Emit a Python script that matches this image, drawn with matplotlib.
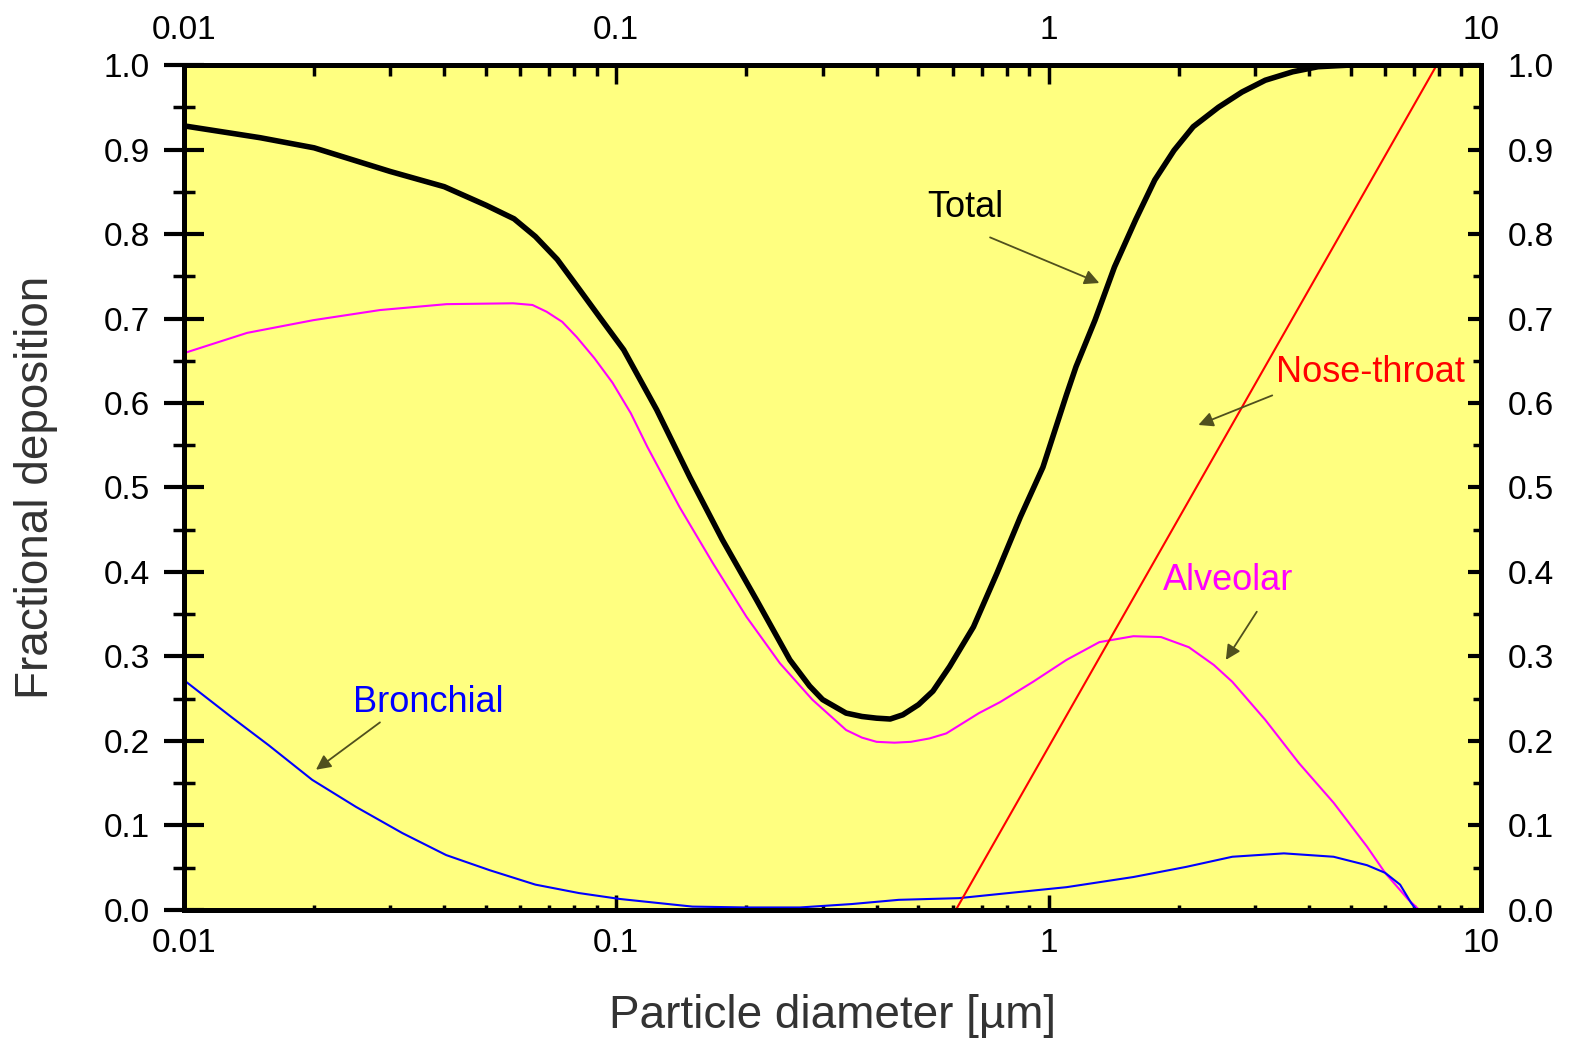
import matplotlib
matplotlib.use("Agg")
import matplotlib.pyplot as plt
from matplotlib.ticker import FixedLocator, NullFormatter, LogLocator

plt.rcParams['font.family'] = ['Liberation Sans', 'DejaVu Sans']

# particle diameter [um] and fractional deposition
total_d = [0.01, 0.015, 0.02, 0.03, 0.04, 0.05, 0.058, 0.065, 0.073, 0.082,
           0.092, 0.104, 0.124, 0.148, 0.176, 0.211, 0.252, 0.28, 0.30, 0.34,
           0.37, 0.40, 0.43, 0.46, 0.50, 0.54, 0.59, 0.67, 0.76, 0.86, 0.97,
           1.10, 1.157, 1.28, 1.42, 1.59, 1.76, 1.95, 2.16, 2.47, 2.8, 3.17,
           3.67, 4.2, 5.0, 8.0]
total_y = [0.928, 0.914, 0.902, 0.874, 0.856, 0.834, 0.818, 0.797, 0.77, 0.735,
           0.70, 0.663, 0.592, 0.512, 0.438, 0.367, 0.296, 0.265, 0.249, 0.233,
           0.229, 0.227, 0.226, 0.231, 0.243, 0.259, 0.288, 0.335, 0.399, 0.465,
           0.524, 0.61, 0.643, 0.698, 0.761, 0.817, 0.864, 0.899, 0.927, 0.95,
           0.968, 0.982, 0.992, 0.998, 1.0, 1.0]

alv_d = [0.01, 0.014, 0.0199, 0.0284, 0.0405, 0.0577, 0.064, 0.069, 0.075,
         0.081, 0.089, 0.098, 0.108, 0.118, 0.14, 0.167, 0.2, 0.239, 0.284,
         0.34, 0.37, 0.40, 0.44, 0.48, 0.53, 0.58, 0.69, 0.772, 0.92, 1.10,
         1.31, 1.57, 1.82, 2.11, 2.41, 2.66, 3.17, 3.79, 4.56, 5.45, 6.0, 6.8,
         7.2]
alv_y = [0.659, 0.683, 0.698, 0.710, 0.717, 0.718, 0.716, 0.708, 0.696,
         0.678, 0.653, 0.624, 0.588, 0.548, 0.477, 0.411, 0.347, 0.292, 0.249,
         0.213, 0.204, 0.199, 0.198, 0.199, 0.203, 0.209, 0.233, 0.246, 0.270,
         0.296, 0.317, 0.324, 0.323, 0.311, 0.29, 0.270, 0.225, 0.174, 0.127,
         0.075, 0.044, 0.012, 0.0]

bron_d = [0.01, 0.0129, 0.0157, 0.0198, 0.025, 0.032, 0.0404, 0.051, 0.065,
          0.082, 0.102, 0.15, 0.2, 0.266, 0.35, 0.45, 0.62, 0.772, 1.10, 1.57,
          2.08, 2.66, 3.5, 4.56, 5.45, 6.0, 6.5, 6.9, 7.1]
bron_y = [0.272, 0.228, 0.195, 0.154, 0.122, 0.091, 0.065, 0.047, 0.030,
          0.02, 0.013, 0.004, 0.003, 0.003, 0.007, 0.012, 0.014, 0.019, 0.027,
          0.039, 0.051, 0.063, 0.067, 0.063, 0.053, 0.044, 0.030, 0.008, 0.0]

nose_d = [0.61, 7.9]
nose_y = [0.0, 1.0]

x_ticks = [0.01, 0.1, 1, 10]
x_labels = ['0.01', '0.1', '1', '10']
y_ticks = [0.0, 0.1, 0.2, 0.3, 0.4, 0.5, 0.6, 0.7, 0.8, 0.9, 1.0]
y_labels = ['%.1f' % v for v in y_ticks]

# label, text position, arrow tail, arrow head, colour
notes = [
    ('Total', (0.64, 0.831), (0.732, 0.796), (1.31, 0.742), 'black'),
    ('Nose-throat', (5.54, 0.636), (3.29, 0.609), (2.22, 0.574), 'red'),
    ('Alveolar', (2.6, 0.39), (3.03, 0.353), (2.57, 0.296), '#ff00ff'),
    ('Bronchial', (0.0367, 0.245), (0.0284, 0.222), (0.0202, 0.166), '#0000ff'),
]

fig = plt.figure(figsize=(15.71, 10.42), dpi=100)
ax = fig.add_axes([0.1171, 0.1267, 0.8256, 0.8109])
ax.set_facecolor('#ffff80')

ax.plot(total_d, total_y, color='black', lw=4, solid_joinstyle='round')
ax.plot(alv_d, alv_y, color='#ff00ff', lw=1.5)
ax.plot(bron_d, bron_y, color='#0000ff', lw=1.5)
ax.plot(nose_d, nose_y, color='red', lw=1.5)

for label, txt, tail, head, col in notes:
    ax.text(txt[0], txt[1], label, color=col, fontsize=26, ha='center', va='center')
    ax.annotate('', xy=head, xytext=tail,
                arrowprops=dict(arrowstyle='-|>', color='#50501e', lw=1.3,
                                mutation_scale=22, shrinkA=0, shrinkB=0))

ax.set_xscale('log')
ax.set_xlim(0.01, 10)
ax.set_ylim(0, 1)

ax.xaxis.set_major_locator(FixedLocator(x_ticks))
ax.set_xticklabels(x_labels)
ax.xaxis.set_minor_locator(LogLocator(base=10, subs=range(2, 10)))
ax.xaxis.set_minor_formatter(NullFormatter())
ax.set_yticks(y_ticks)
ax.set_yticklabels(y_labels)
ax.set_yticks([v + 0.05 for v in y_ticks[:-1]], minor=True)

ax.tick_params(axis='y', which='major', direction='inout', length=29, width=3,
               pad=10, labelsize=24)
ax.tick_params(axis='y', which='minor', direction='inout', length=16, width=2.5)
ax.tick_params(axis='x', which='major', direction='in', length=11, width=2.5,
               pad=13, labelsize=24)
ax.tick_params(axis='x', which='minor', direction='in', length=3.5, width=2.5)

# right side
axr = ax.twinx()
axr.set_ylim(0, 1)
axr.set_yticks(y_ticks)
axr.set_yticklabels(y_labels)
axr.set_yticks([v + 0.05 for v in y_ticks[:-1]], minor=True)
axr.tick_params(axis='y', which='major', direction='in', length=9.5, width=3,
                pad=19, labelsize=24)
axr.tick_params(axis='y', which='minor', direction='in', length=6, width=2.5)

# top side
axt = ax.twiny()
axt.set_xscale('log')
axt.set_xlim(0.01, 10)
axt.xaxis.set_major_locator(FixedLocator(x_ticks))
axt.set_xticklabels(x_labels)
axt.xaxis.set_minor_locator(LogLocator(base=10, subs=range(2, 10)))
axt.xaxis.set_minor_formatter(NullFormatter())
axt.tick_params(axis='x', which='major', direction='in', length=14, width=2.5,
                pad=14, labelsize=24)
axt.tick_params(axis='x', which='minor', direction='in', length=8, width=2.5)

for a in (ax, axr, axt):
    for s in a.spines.values():
        s.set_linewidth(3.6)

ax.set_xlabel('Particle diameter [\u00b5m]', fontsize=33, color='#333333')
ax.set_ylabel('Fractional deposition', fontsize=33, color='#333333')
ax.xaxis.set_label_coords(0.5, -0.1)
ax.yaxis.set_label_coords(-0.097, 0.5)

fig.savefig('out.png', dpi=100)
